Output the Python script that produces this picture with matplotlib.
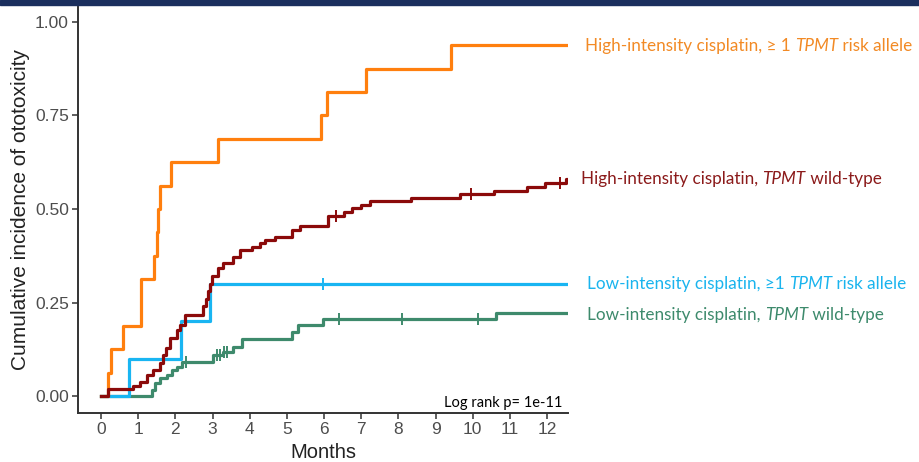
import matplotlib
matplotlib.use("Agg")
import matplotlib.pyplot as plt
import numpy as np
from matplotlib.offsetbox import TextArea, HPacker, AnnotationBbox

# ---- data ----
hi_risk_t = [0, 0.19, 0.26, 0.58, 1.07, 1.42, 1.50, 1.53, 1.59, 1.88, 3.15, 5.91, 6.08, 7.12, 9.41, 12.55]
hi_risk_y = [0, 0.0625, 0.125, 0.1875, 0.3125, 0.375, 0.4375, 0.5, 0.5625, 0.625, 0.6875, 0.75, 0.8125, 0.875, 0.9375, 0.9375]
hi_risk_cens_t = []

hi_wt_t = [0, 0.19, 0.87, 1.05, 1.24, 1.40, 1.59, 1.67, 1.75, 1.85, 2.04, 2.12, 2.26, 2.70, 2.74, 2.82, 2.88, 2.93, 2.98,
           3.15, 3.28, 3.55, 3.74, 4.05, 4.27, 4.41, 4.68, 5.13, 5.35, 6.10, 6.53, 6.74, 7.00, 7.23, 8.33, 9.65,
           10.56, 11.47, 11.94, 12.52, 12.55]
hi_wt_y = [0, 0.019, 0.028, 0.037, 0.056, 0.070, 0.088, 0.110, 0.130, 0.155, 0.176, 0.190, 0.217, 0.217, 0.240, 0.260, 0.280, 0.300, 0.320,
           0.342, 0.355, 0.372, 0.390, 0.398, 0.410, 0.417, 0.426, 0.444, 0.455, 0.481, 0.493, 0.502, 0.512, 0.521, 0.530, 0.540,
           0.549, 0.560, 0.569, 0.580, 0.580]
hi_wt_cens_t = [6.32, 9.96, 12.34]

lo_risk_t = [0, 0.75, 2.14, 2.93, 12.55]
lo_risk_y = [0, 0.1, 0.2, 0.3, 0.3]
lo_risk_cens_t = [5.97]

lo_wt_t = [0, 1.36, 1.45, 1.59, 1.77, 1.90, 2.03, 2.17, 3.01, 3.28, 3.55, 3.78, 5.15, 5.30, 5.96, 10.62, 12.55]
lo_wt_y = [0, 0.016, 0.035, 0.048, 0.056, 0.070, 0.078, 0.092, 0.110, 0.118, 0.132, 0.154, 0.172, 0.190, 0.205, 0.223, 0.223]
lo_wt_cens_t = [2.28, 3.12, 3.20, 3.30, 3.39, 6.41, 8.11, 10.14]

x_ticks = list(range(0, 13))
y_ticks = [0.00, 0.25, 0.50, 0.75, 1.00]
y_ticklabels = ["0.00", "0.25", "0.50", "0.75", "1.00"]

series = [
    ("High-intensity cisplatin, \u2265 1 ", "TPMT", " risk allele", hi_risk_t, hi_risk_y, hi_risk_cens_t, "#FF7F0E", "#F28A25"),
    ("High-intensity cisplatin, ", "TPMT", " wild-type", hi_wt_t, hi_wt_y, hi_wt_cens_t, "#8B0A0A", "#8B1A1A"),
    ("Low-intensity cisplatin, \u22651 ", "TPMT", " risk allele", lo_risk_t, lo_risk_y, lo_risk_cens_t, "#19B5F2", "#1AB4EE"),
    ("Low-intensity cisplatin, ", "TPMT", " wild-type", lo_wt_t, lo_wt_y, lo_wt_cens_t, "#3E8A6C", "#3D8A6C"),
]
label_y = [0.935, 0.58, 0.30, 0.216]

fig = plt.figure(figsize=(9.19, 4.62), dpi=100)
# top navy band
fig.patches.append(plt.Rectangle((0, 0.989), 1, 0.011, transform=fig.transFigure, color="#1B2F5E", zorder=0))

ax = fig.add_axes([0.0849, 0.106, 0.533, 0.879])

draw_order = [3, 2, 1, 0]
for i in draw_order:
    pre, it, post, t, y, ct, col, tcol = series[i]
    ax.step(t, y, where="post", color=col, lw=2.3, zorder=4 if i == 1 else 3 + (3 - i) * 0.1)
    if ct:
        cy = [y[np.searchsorted(t, c, side="right") - 1] for c in ct]
        ax.plot(ct, cy, ls="none", marker="|", ms=8, mew=1.4, color=col, zorder=5)

ax.set_xlim(-0.62, 12.56)
ax.set_ylim(-0.045, 1.04)
ax.set_xticks(x_ticks)
ax.set_yticks(y_ticks)
ax.set_yticklabels(y_ticklabels)
for s in ["top", "right"]:
    ax.spines[s].set_visible(False)
for s in ["left", "bottom"]:
    ax.spines[s].set_color("#333333")
    ax.spines[s].set_linewidth(1.4)
ax.tick_params(axis="both", colors="#333333", width=1.1, length=4, labelsize=12.5, labelcolor="#4D4D4D", pad=2.5)
for lab in ax.get_xticklabels() + ax.get_yticklabels():
    lab.set_fontfamily("Liberation Sans")
ax.set_xlabel("Months", fontsize=14.5, fontfamily="Liberation Sans", color="#222222", labelpad=4)
ax.set_ylabel("Cumulative incidence of ototoxicity", fontsize=15, fontfamily="Liberation Sans", color="#222222", labelpad=4)

ax.text(12.4, -0.018, "Log rank p= 1e-11", ha="right", va="center", fontsize=10.5, fontfamily="Lato", color="black")

# right-side labels
xs = [585, 581, 587, 587]
for i, (pre, it, post, t, y, ct, col, tcol) in enumerate(series):
    fp = dict(fontsize=12.3, family=["Lato", "DejaVu Sans"], color=tcol)
    parts = [TextArea(pre, textprops=fp),
             TextArea(it, textprops=dict(fp, style="italic")),
             TextArea(post, textprops=fp)]
    box = HPacker(children=parts, align="baseline", pad=0, sep=0)
    ab = AnnotationBbox(box, (xs[i] / 919, label_y[i]), xycoords=("figure fraction", "data"),
                        box_alignment=(0, 0.5), frameon=False, annotation_clip=False)
    ax.add_artist(ab)

fig.savefig("out.png", dpi=100)
